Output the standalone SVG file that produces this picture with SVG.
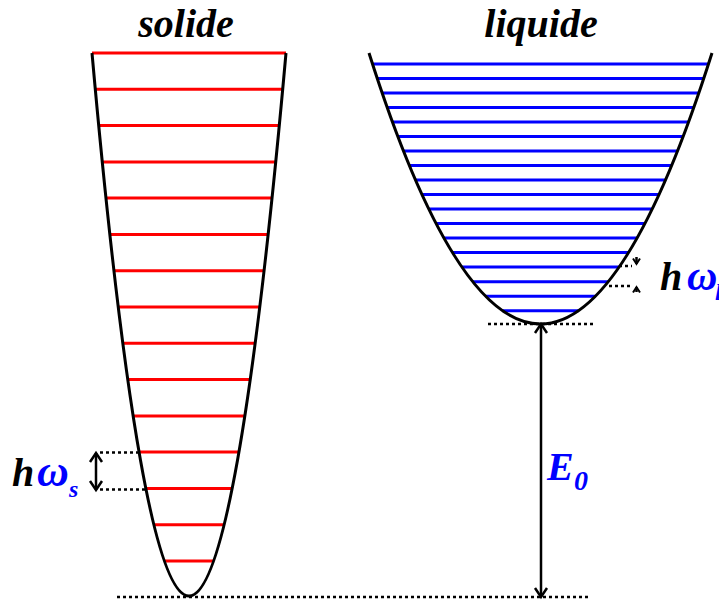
<svg xmlns="http://www.w3.org/2000/svg" width="719" height="603" viewBox="0 0 719 603">
<style>
.t{font-family:"Liberation Serif","Times New Roman",serif;font-weight:bold;font-style:italic;}
.well{fill:none;stroke:#000;stroke-width:3;}
.red line{stroke:#ff0000;stroke-width:3;}
.blue line{stroke:#0000ff;stroke-width:3;}
.dot{stroke:#000;stroke-width:2.5;stroke-dasharray:3 3;fill:none;}
.arr{stroke:#000;stroke-width:2.5;fill:none;}
</style>
<defs>
<marker id="ah" markerUnits="userSpaceOnUse" markerWidth="24" markerHeight="24" refX="12" refY="12" orient="auto-start-reverse" overflow="visible">
<path d="M3,6 L12,12 L3,18" fill="none" stroke="#000" stroke-width="2.5"/>
</marker>
<marker id="ahs" markerUnits="userSpaceOnUse" markerWidth="12" markerHeight="12" refX="6" refY="6" orient="auto" overflow="visible">
<path d="M0.5,2.5 L6,6 L0.5,9.5" fill="none" stroke="#000" stroke-width="2"/>
</marker>
</defs>
<rect width="719" height="603" fill="#fff"/>

<g id="title-solide"><text class="t" x="186" y="37" font-size="40" text-anchor="middle">solide</text></g>
<g id="title-liquide"><text class="t" x="541" y="37" font-size="40" text-anchor="middle">liquide</text></g>

<g id="baselines">
<line class="dot" x1="117" y1="597" x2="590" y2="597"/>
<line class="dot" x1="488" y1="324" x2="593" y2="324"/>
<line class="dot" x1="100" y1="452.5" x2="139" y2="452.5"/>
<line class="dot" x1="100" y1="489.5" x2="145" y2="489.5"/>
<line class="dot" x1="619" y1="266" x2="632" y2="266"/>
<line class="dot" x1="609" y1="286" x2="632" y2="286"/>
</g>

<g id="solid-well">
<g class="red">
<line x1="92" y1="53" x2="286" y2="53"/>
<line x1="95.3" y1="89.3" x2="282.7" y2="89.3"/>
<line x1="98.7" y1="125.6" x2="279.3" y2="125.6"/>
<line x1="102.3" y1="161.9" x2="275.7" y2="161.9"/>
<line x1="106" y1="198.1" x2="272" y2="198.1"/>
<line x1="109.8" y1="234.4" x2="268.2" y2="234.4"/>
<line x1="113.9" y1="270.7" x2="264.1" y2="270.7"/>
<line x1="118.2" y1="307" x2="259.8" y2="307"/>
<line x1="122.8" y1="343.3" x2="255.2" y2="343.3"/>
<line x1="127.8" y1="379.6" x2="250.2" y2="379.6"/>
<line x1="133.1" y1="415.9" x2="244.9" y2="415.9"/>
<line x1="139.1" y1="452.1" x2="238.9" y2="452.1"/>
<line x1="145.8" y1="488.4" x2="232.2" y2="488.4"/>
<line x1="153.9" y1="524.7" x2="224.1" y2="524.7"/>
<line x1="164.4" y1="561" x2="213.6" y2="561"/>
</g>
<path class="well" d="M92,53 Q189,1139 286,53"/>
</g>

<g id="liquid-well">
<g class="blue">
<line x1="372.5" y1="64" x2="708.5" y2="64"/>
<line x1="377.3" y1="78.5" x2="703.7" y2="78.5"/>
<line x1="382.2" y1="93" x2="698.8" y2="93"/>
<line x1="387.2" y1="107.5" x2="693.8" y2="107.5"/>
<line x1="392.4" y1="122" x2="688.6" y2="122"/>
<line x1="397.9" y1="136.6" x2="683.1" y2="136.6"/>
<line x1="403.5" y1="151.1" x2="677.5" y2="151.1"/>
<line x1="409.4" y1="165.6" x2="671.6" y2="165.6"/>
<line x1="415.5" y1="180.1" x2="665.5" y2="180.1"/>
<line x1="422" y1="194.6" x2="659" y2="194.6"/>
<line x1="428.8" y1="209.1" x2="652.2" y2="209.1"/>
<line x1="436.1" y1="223.6" x2="644.9" y2="223.6"/>
<line x1="444" y1="238.1" x2="637" y2="238.1"/>
<line x1="452.5" y1="252.6" x2="628.5" y2="252.6"/>
<line x1="461.9" y1="267.1" x2="619.1" y2="267.1"/>
<line x1="472.7" y1="281.7" x2="608.3" y2="281.7"/>
<line x1="485.5" y1="296.2" x2="595.5" y2="296.2"/>
<line x1="502.5" y1="310.7" x2="578.5" y2="310.7"/>
</g>
<path class="well" d="M369,53 Q540.5,595 712,53"/>
</g>

<g id="connectors">
<line class="arr" x1="541" y1="324" x2="541" y2="597" marker-start="url(#ah)" marker-end="url(#ah)"/>
<line class="arr" x1="96" y1="453" x2="96" y2="490" marker-start="url(#ah)" marker-end="url(#ah)"/>
<line class="arr" stroke-width="2" x1="636.5" y1="257" x2="636.5" y2="264" marker-end="url(#ahs)"/>
<line class="arr" stroke-width="2" x1="636.5" y1="292" x2="636.5" y2="287" marker-end="url(#ahs)"/>
</g>

<g id="label-hws">
<text class="t" x="12" y="486" font-size="40">h</text>
<text class="t" x="37" y="486" font-size="44" fill="#0000ff">ω</text>
<text class="t" x="69" y="497" font-size="24" fill="#0000ff">s</text>
</g>
<g id="label-hwl">
<text class="t" x="660" y="290" font-size="40">h</text>
<text class="t" x="687" y="290" font-size="42" fill="#0000ff">ω</text>
<text class="t" x="715" y="300" font-size="24" fill="#0000ff">l</text>
</g>
<g id="label-E0">
<text class="t" x="547" y="480" font-size="40" fill="#0000ff">E</text>
<text class="t" x="574" y="490" font-size="28" fill="#0000ff">0</text>
</g>
</svg>
